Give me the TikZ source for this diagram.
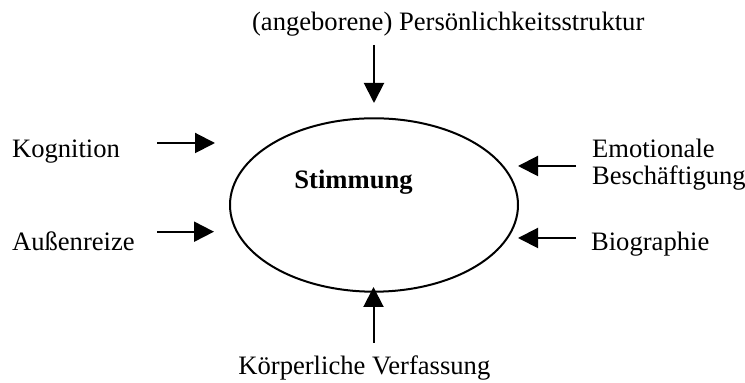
\documentclass[tikz,border=0pt]{standalone}
\usepackage{fontspec}
\setmainfont{Liberation Serif}
\usetikzlibrary{shapes.geometric,arrows.meta}
\begin{document}
\begin{tikzpicture}[x=0.5pt,y=-0.5pt,
  lbl/.style={inner sep=0pt,font=\fontsize{13.3}{13.5}\selectfont,anchor=base west},
  infl/.style={line width=1pt,-{Triangle[length=10pt,width=10pt]}},
  mood/.style={draw,ellipse,line width=1pt,minimum width=144pt,minimum height=86.7pt,inner sep=0pt}]
\useasboundingbox (0,0) rectangle (745,383);
\node[mood] (e) at (374,205) {};
\node[lbl,font=\fontsize{13.3}{13.5}\selectfont\bfseries] (s) at (294,189) {Stimmung};
\node[lbl] (top) at (251.7,30.7) {(angeborene) Persönlichkeitsstruktur};
\node[lbl] (bot) at (238,375) {Körperliche Verfassung};
\node[lbl] (kog) at (11.7,158) {Kognition};
\node[lbl] (aus) at (11.7,251) {Außenreize};
\node[lbl,align=left] (emo) at (591.7,185) {Emotionale\\Beschäftigung};
\node[lbl] (bio) at (590.7,251) {Biographie};
\coordinate (t1) at (374,45);   \coordinate (t2) at (374,103);
\coordinate (b1) at (373.5,343); \coordinate (b2) at (373.5,287);
\coordinate (k1) at (157,143);  \coordinate (k2) at (215,143);
\coordinate (a1) at (157,231.7); \coordinate (a2) at (214,231.7);
\coordinate (m1) at (576,166);  \coordinate (m2) at (518,166);
\coordinate (g1) at (576,238);  \coordinate (g2) at (518,238);
\draw[infl] (t1) -- (t2);
\draw[infl] (b1) -- (b2);
\draw[infl] (k1) -- (k2);
\draw[infl] (a1) -- (a2);
\draw[infl] (m1) -- (m2);
\draw[infl] (g1) -- (g2);
\end{tikzpicture}
\end{document}
